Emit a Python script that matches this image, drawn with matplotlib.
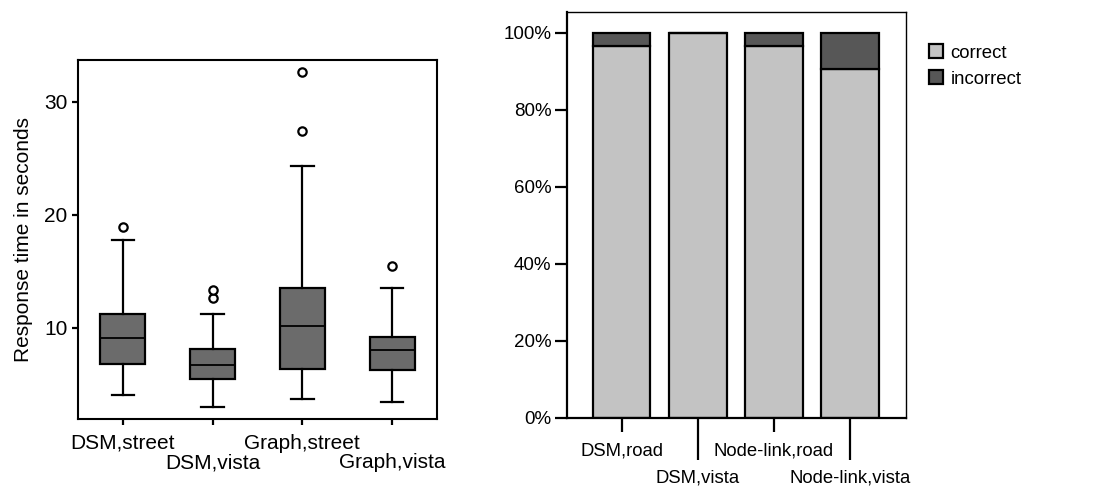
import matplotlib
matplotlib.use("Agg")
import matplotlib.pyplot as plt

plt.rcParams['font.family'] = ['Liberation Sans', 'DejaVu Sans']

# left panel: response times (box plot stats)
box_labels = ["DSM,street", "DSM,vista", "Graph,street", "Graph,vista"]
whislo = [4.1, 3.0, 3.7, 3.45]
q1 = [6.8, 5.45, 6.35, 6.3]
med = [9.15, 6.7, 10.2, 8.05]
q3 = [11.2, 8.1, 13.5, 9.2]
whishi = [17.75, 11.2, 24.3, 13.5]
fliers = [[18.95], [12.65, 13.35], [27.4, 32.6], [15.5]]

# right panel: share of correct / incorrect answers
bar_labels = ["DSM,road", "DSM,vista", "Node-link,road", "Node-link,vista"]
correct = [96.6, 100.0, 96.6, 90.6]
incorrect = [3.4, 0.0, 3.4, 9.4]

fig = plt.figure(figsize=(10.98, 4.86), dpi=100)

# ---- box plot ----
ax1 = fig.add_axes([0.0710, 0.1379, 0.327, 0.7387])
stats = []
for i in range(len(box_labels)):
    stats.append(dict(whislo=whislo[i], q1=q1[i], med=med[i], q3=q3[i],
                      whishi=whishi[i], fliers=fliers[i]))
ax1.bxp(stats, positions=[1, 2, 3, 4], widths=0.5, patch_artist=True,
        boxprops=dict(facecolor="#6b6b6b", edgecolor="black", linewidth=1.6),
        medianprops=dict(color="black", linewidth=1.3),
        whiskerprops=dict(color="black", linewidth=1.6),
        capprops=dict(color="black", linewidth=1.6),
        flierprops=dict(marker="o", markersize=6, markerfacecolor="white",
                        markeredgecolor="black", markeredgewidth=1.6))
ax1.set_xlim(0.5, 4.5)
ax1.set_ylim(1.95, 33.7)
ax1.set_yticks([10, 20, 30])
ax1.tick_params(axis="y", labelsize=15, length=4.5, width=1.6, pad=3)
# alternate label rows: odd categories as major ticks, even ones as minor
pos1 = [1, 2, 3, 4]
ax1.set_xticks(pos1[0::2], box_labels[0::2])
ax1.set_xticks(pos1[1::2], box_labels[1::2], minor=True)
ax1.tick_params(axis="x", which="major", labelsize=15, length=4.5, width=1.6, pad=6)
ax1.tick_params(axis="x", which="minor", labelsize=15, length=4.5, width=1.6, pad=20)
ax1.set_ylabel("Response time in seconds", fontsize=15, labelpad=8)
for s in ax1.spines.values():
    s.set_linewidth(1.5)

# ---- stacked bars ----
ax2 = fig.add_axes([0.5161, 0.1405, 0.3087, 0.834])
xpos = list(range(len(bar_labels)))
ax2.bar(xpos, correct, width=0.76, color="#c3c3c3", edgecolor="black",
        linewidth=1.6, label="correct")
ax2.bar(xpos, incorrect, bottom=correct, width=0.76, color="#575757",
        edgecolor="black", linewidth=1.6, label="incorrect")
ax2.set_xlim(-0.72, 3.73)
ax2.set_ylim(0, 105.3)
ax2.set_yticks([0, 20, 40, 60, 80, 100])
ax2.set_yticklabels(["%d%%" % v for v in [0, 20, 40, 60, 80, 100]])
ax2.tick_params(axis="y", labelsize=13.5, length=9, width=1.6, pad=2)
ax2.set_xticks(xpos[0::2], bar_labels[0::2])
ax2.set_xticks(xpos[1::2], bar_labels[1::2], minor=True)
ax2.tick_params(axis="x", which="major", labelsize=13.3, length=10, width=1.6, pad=8)
ax2.tick_params(axis="x", which="minor", labelsize=13.3, length=30, width=1.6, pad=7)
ax2.spines["top"].set_linewidth(1.0)
ax2.spines["right"].set_linewidth(1.0)
ax2.spines["left"].set_linewidth(1.6)
ax2.spines["bottom"].set_linewidth(1.6)
ax2.legend(loc="upper left", bbox_to_anchor=(1.047, 0.94), frameon=False,
           fontsize=13.4, handlelength=0.75, handleheight=0.8,
           handletextpad=0.4, labelspacing=0.45, borderaxespad=0)

fig.savefig("out.png", dpi=100)
